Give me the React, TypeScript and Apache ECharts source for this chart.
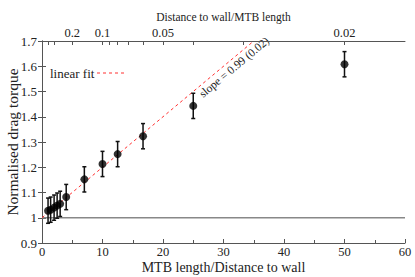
import React, { useEffect, useRef } from "react";
import * as echarts from "echarts";

const xValues = [1, 1.43, 2, 2.5, 3, 4, 7, 10, 12.5, 16.7, 25, 50];
const yValues = [1.028, 1.032, 1.04, 1.048, 1.055, 1.082, 1.152, 1.213, 1.252, 1.323, 1.443, 1.608];
const yErrors = [0.05, 0.05, 0.05, 0.05, 0.05, 0.05, 0.05, 0.05, 0.05, 0.05, 0.05, 0.05];
const fitLine = [[0, 1], [35, 1.7]];
const baseline = [[0, 1], [60, 1]];
const topTickValues = [1, 2, 5, 10, 11.111, 12.5, 14.286, 16.667, 20, 25, 33.333, 50];
const topLabelValues = [5, 10, 20, 50];

const FONT = "'Liberation Serif', 'DejaVu Serif', serif";

export default function App() {
  const ref = useRef<HTMLDivElement>(null);
  useEffect(() => {
    if (!ref.current) return;
    const chart = echarts.init(ref.current, null, { renderer: "svg" });
    const axisLine = { show: true, lineStyle: { color: "#555", width: 1 } };
    const pts = xValues.map((x, i) => [x, yValues[i]]);
    const errs = xValues.map((x, i) => [x, yValues[i], yValues[i] - yErrors[i], yValues[i] + yErrors[i]]);
    chart.setOption({
      animation: false,
      grid: { left: 42, right: 10, top: 41, bottom: 34, containLabel: false, outerBoundsMode: "none" },
      xAxis: [
        {
          type: "value",
          position: "bottom",
          min: 0,
          max: 60,
          interval: 10,
          axisLine,
          axisTick: { show: true, inside: true, length: 4, lineStyle: { color: "#555" } },
          minorTick: { show: true, splitNumber: 2, length: 3, lineStyle: { color: "#555" } },
          splitLine: { show: false },
          axisLabel: { color: "#222", fontFamily: FONT, fontSize: 12.5, margin: 2 },
          name: "MTB length/Distance to wall",
          nameLocation: "middle",
          nameGap: 17,
          nameMoveOverlap: false,
          nameTextStyle: { color: "#222", fontFamily: FONT, fontSize: 14 },
        },
        {
          type: "value",
          position: "top",
          min: 0,
          max: 60,
          axisLine,
          axisTick: { show: true, inside: true, length: 4, customValues: topTickValues, lineStyle: { color: "#555" } },
          splitLine: { show: false },
          axisLabel: {
            color: "#222",
            fontFamily: FONT,
            fontSize: 12.5,
            margin: 2,
            customValues: topLabelValues,
            formatter: (v: number) => String(Math.round(1000 / v) / 1000),
          },
          name: "Distance to wall/MTB length",
          nameLocation: "middle",
          nameGap: 18,
          nameMoveOverlap: false,
          nameTextStyle: { color: "#222", fontFamily: FONT, fontSize: 11.5 },
        },
      ],
      yAxis: [
        {
          type: "value",
          position: "left",
          min: 0.9,
          max: 1.7,
          interval: 0.1,
          axisLine,
          axisTick: { show: true, inside: true, length: 4, lineStyle: { color: "#555" } },
          splitLine: { show: false },
          axisLabel: {
            color: "#222",
            fontFamily: FONT,
            fontSize: 13,
            margin: 5,
            formatter: (v: number) => String(Math.round(v * 10) / 10),
          },
          name: "Normalised drag torque",
          nameLocation: "middle",
          nameGap: 22,
          nameMoveOverlap: false,
          nameTextStyle: { color: "#222", fontFamily: FONT, fontSize: 15.5 },
        },
        {
          type: "value",
          position: "right",
          min: 0.9,
          max: 1.7,
          interval: 0.1,
          axisLine,
          axisTick: { show: true, inside: true, length: 4, lineStyle: { color: "#555" } },
          splitLine: { show: false },
          axisLabel: { show: false },
        },
      ],
      series: [
        {
          type: "line",
          data: baseline,
          symbol: "none",
          lineStyle: { color: "#888", width: 1.5 },
          silent: true,
          z: 1,
        },
        {
          type: "line",
          name: "linear fit",
          data: fitLine,
          symbol: "none",
          lineStyle: { color: "#ff3030", width: 1, type: [3, 3] },
          silent: true,
          z: 2,
        },
        {
          type: "custom",
          data: errs,
          z: 3,
          renderItem: (params: any, api: any) => {
            const x = api.value(0);
            const lo = api.coord([x, api.value(2)]);
            const hi = api.coord([x, api.value(3)]);
            const cap = 2;
            const style = { stroke: "#111", lineWidth: 1.5 };
            return {
              type: "group",
              children: [
                { type: "line", shape: { x1: lo[0], y1: lo[1], x2: hi[0], y2: hi[1] }, style },
                { type: "line", shape: { x1: lo[0] - cap, y1: lo[1], x2: lo[0] + cap, y2: lo[1] }, style },
                { type: "line", shape: { x1: hi[0] - cap, y1: hi[1], x2: hi[0] + cap, y2: hi[1] }, style },
              ],
            };
          },
        },
        {
          type: "scatter",
          data: pts,
          symbol: "circle",
          symbolSize: 8,
          itemStyle: { color: "#000" },
          z: 4,
        },
      ],
      graphic: [
        {
          type: "text",
          x: 50,
          y: 73,
          style: { text: "linear fit", fontFamily: FONT, fontSize: 13, fill: "#222", verticalAlign: "middle" },
        },
        {
          type: "line",
          shape: { x1: 97, y1: 73, x2: 126, y2: 73 },
          style: { stroke: "#ff3030", lineWidth: 1, lineDash: [3, 3] },
        },
        {
          type: "text",
          x: 234,
          y: 67,
          rotation: (40 * Math.PI) / 180,
          style: {
            text: "slope = 0.99 (0.02)",
            fontFamily: FONT,
            fontSize: 11.5,
            fill: "#222",
            align: "center",
            verticalAlign: "middle",
          },
        },
      ],
    });
    return () => chart.dispose();
  }, []);
  return <div ref={ref} style={{ width: 415, height: 277, position: "absolute", left: 0, top: 0 }} />;
}
